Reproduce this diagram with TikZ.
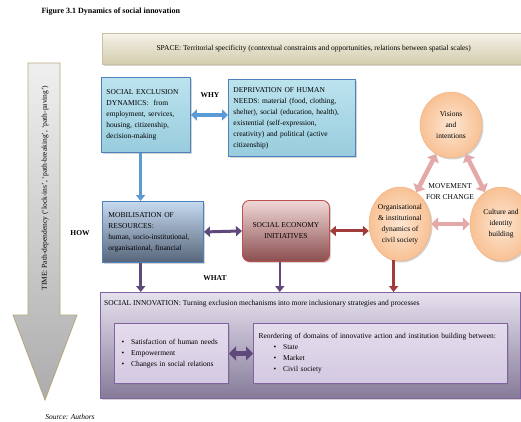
\documentclass[tikz,border=0pt]{standalone}
\usepackage{fontspec}
\setmainfont{Liberation Serif}
\usetikzlibrary{calc,shapes.geometric,shadows,arrows.meta}
\definecolor{spacetop}{HTML}{F5F2E8}
\definecolor{spacebot}{HTML}{D3CCAD}
\definecolor{spaceline}{HTML}{C9C1A2}
\definecolor{bluetop}{HTML}{BCE3EE}
\definecolor{bluebot}{HTML}{98CCDD}
\definecolor{blueline}{HTML}{4F81BD}
\definecolor{mobtop}{HTML}{C6D9EF}
\definecolor{mobbot}{HTML}{56657A}
\definecolor{seitop}{HTML}{F0D8D7}
\definecolor{seibot}{HTML}{8C4E50}
\definecolor{seiline}{HTML}{C0504D}
\definecolor{peachin}{HTML}{FDE6D2}
\definecolor{peachout}{HTML}{F8C194}
\definecolor{peachline}{HTML}{F2B07F}
\definecolor{innovtop}{HTML}{E6E0EE}
\definecolor{innovbot}{HTML}{857B99}
\definecolor{innerfill}{HTML}{DDD4E8}
\definecolor{purpline}{HTML}{8064A2}
\definecolor{arrblue}{HTML}{5B9BD5}
\definecolor{arrpurple}{HTML}{5F497A}
\definecolor{arrred}{HTML}{A13C3A}
\definecolor{arrpink}{HTML}{E3A9A8}
\definecolor{timeline}{HTML}{B5A77B}

\begin{document}
\begin{tikzpicture}[x=1pt,y=-1pt,
    every node/.style={font=\fontsize{7.5}{11}\selectfont},
    shadowed/.style={drop shadow={opacity=0.35,shadow xshift=1.5pt,shadow yshift=-1.5pt}},
    panel/.style={anchor=north west, inner sep=0pt, align=left, shadowed},
    bluepanel/.style={panel, top color=bluetop, bottom color=bluebot, draw=blueline, line width=0.9pt},
    innerpanel/.style={panel, top color=innerfill!80!white, bottom color=innerfill!90!purpline, draw=purpline, line width=1pt},
    peach/.style={ellipse, inner sep=0pt, draw=peachline, shading=radial, inner color=peachin, outer color=peachout, shadowed},
    tag/.style={font=\fontsize{7.5}{11}\selectfont\bfseries},
    bluearr/.style={{Triangle[length=6pt,width=11pt]}-{Triangle[length=6pt,width=11pt]}, line width=3.5pt, draw=arrblue, fill=arrblue},
    purparr/.style={{Triangle[length=6pt,width=10pt]}-{Triangle[length=6pt,width=10pt]}, line width=3pt, draw=arrpurple, fill=arrpurple},
    redarr/.style={{Triangle[length=6pt,width=10pt]}-{Triangle[length=6pt,width=10pt]}, line width=3pt, draw=arrred, fill=arrred},
    pinkarr/.style={{Triangle[length=7pt,width=13pt]}-{Triangle[length=7pt,width=13pt]}, line width=4.5pt, draw=arrpink, fill=arrpink},
    downarr/.style={-{Triangle[length=6pt,width=9pt]}, line width=2.5pt}]
  \useasboundingbox (0,0) rectangle (521,421);
  \clip (0,0) rectangle (521,421);
  %%%%% START %%%%%

  \node[tag, font=\fontsize{8}{11}\selectfont\bfseries, anchor=west] (title) at (38,12) {Figure 3.1 Dynamics of social innovation};

  % time arrow
  \draw[top color=gray!12, bottom color=gray!65, draw=timeline, line width=0.8pt]
    (28,63) -- (60,63) -- (60,315) -- (77,315) -- (45,400) -- (13,315) -- (28,315) -- cycle;
  \node[rotate=90] (timetext) at (45,188) {TIME: Path-dependency (`lock-ins', `path-breaking', `path-paving')};

  \node[panel, align=center, minimum width=423pt, minimum height=31pt, top color=spacetop, bottom color=spacebot, draw=spaceline]
    (space) at (102,33) {SPACE: Territorial specificity (contextual constraints and opportunities, relations between spatial scales)};

  \node[bluepanel, minimum width=89pt, minimum height=75pt, text width=79pt] (excl) at (101,77)
    {SOCIAL EXCLUSION\\DYNAMICS:\ \ from\\employment, services,\\housing, citizenship,\\decision-making};
  \node[bluepanel, minimum width=127pt, minimum height=77pt, text width=117pt] (dep) at (228,79)
    {DEPRIVATION OF HUMAN\\NEEDS: material (food, clothing,\\shelter), social (education, health),\\existential (self-expression,\\creativity) and political (active\\citizenship)};
  \node[tag] (why) at (210,95) {WHY};

  \node[panel, minimum width=101pt, minimum height=61pt, text width=89pt, top color=mobtop, bottom color=mobbot, draw=blueline, line width=0.9pt]
    (mob) at (102,201) {MOBILISATION OF\\RESOURCES:\\human, socio-institutional,\\organisational, financial};
  \node[panel, align=center, minimum width=87pt, minimum height=61pt, rounded corners=7pt, top color=seitop, bottom color=seibot, draw=seiline, line width=0.9pt]
    (sei) at (242,200) {SOCIAL ECONOMY\\INITIATIVES};
  \node[tag] (how) at (80,233) {HOW};
  \node[tag] (what) at (215,278) {WHAT};

  % movement for change
  \node[peach, minimum width=62pt, minimum height=66pt] (vis) at (451,125) {};
  \node[peach, minimum width=62pt, minimum height=74pt] (org) at (400,224) {};
  \node[peach, minimum width=62pt, minimum height=74pt] (cul) at (501,224) {};
  \node[align=center] (vistext) at (vis) {Visions\\and\\intentions};
  \node[align=center] (orgtext) at (org) {Organisational\\\& institutional\\dynamics of\\civil society};
  \node[align=center] (cultext) at (cul) {Culture and\\identity\\building};
  \node[align=center] (move) at (450,192) {MOVEMENT\\FOR CHANGE};
  \draw[pinkarr] (org) -- (vis);
  \draw[pinkarr] (vis) -- (cul);
  \draw[pinkarr] (org) -- (cul);

  % social innovation
  \node[panel, minimum width=420pt, minimum height=106pt, top color=innovtop, bottom color=innovbot, draw=purpline, line width=1pt]
    (innov) at (100,292) {};
  \node[anchor=west, inner sep=2pt] (innovtitle) at (102,304)
    {SOCIAL INNOVATION: Turning exclusion mechanisms into more inclusionary strategies and processes};
  \node[innerpanel, minimum width=114pt, minimum height=60pt, text width=100pt] (need) at (114,323)
    {\textbullet\hspace{7pt}Satisfaction of human needs\\\textbullet\hspace{7pt}Empowerment\\\textbullet\hspace{7pt}Changes in social relations};
  \node[innerpanel, minimum width=254pt, minimum height=60pt, text width=244pt] (reord) at (253,323)
    {Reordering of domains of innovative action and institution building between:\\
     \hspace*{15pt}\textbullet\hspace{7pt}State\\\hspace*{15pt}\textbullet\hspace{7pt}Market\\\hspace*{15pt}\textbullet\hspace{7pt}Civil society};

  % connectors
  \coordinate (exclfoot) at ($(excl.south west)!0.44!(excl.south east)$);
  \coordinate (mobfoot) at ($(mob.south west)!0.38!(mob.south east)$);
  \coordinate (seifoot) at ($(sei.south west)!0.43!(sei.south east)$);
  \draw[bluearr] (excl.east) -- (excl.east -| dep.west);
  \draw[downarr, draw=arrblue, fill=arrblue] (exclfoot) -- (exclfoot |- mob.north);
  \draw[purparr] (mob.east) -- (sei.west);
  \draw[redarr] (sei.east) -- (sei.east -| org.west);
  \draw[downarr, draw=arrpurple, fill=arrpurple] (mobfoot) -- (mobfoot |- innov.north);
  \draw[downarr, draw=arrpurple, fill=arrpurple] (seifoot) -- (seifoot |- innov.north);
  \draw[downarr, draw=arrred, fill=arrred] (org.260) -- (org.260 |- innov.north);
  \draw[purparr, line width=5pt, {Triangle[length=7pt,width=14pt]}-{Triangle[length=7pt,width=14pt]}] (need.east) -- (reord.west);

  \node[font=\fontsize{7.5}{11}\selectfont\itshape] (source) at (70,417) {Source: Authors};

  %%%%% END %%%%%
\end{tikzpicture}
\end{document}
